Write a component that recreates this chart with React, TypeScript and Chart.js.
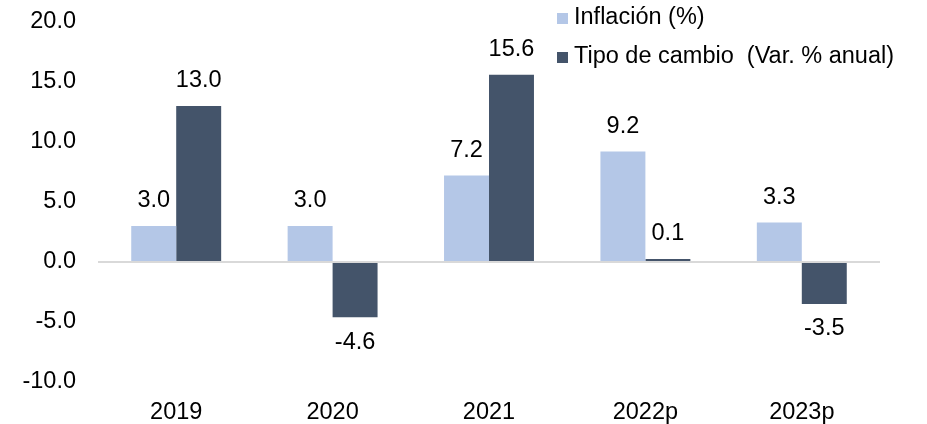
import React, { useEffect, useRef } from "react";
import { Chart, registerables } from "chart.js";

Chart.register(...registerables);

const categories = ["2019", "2020", "2021", "2022p", "2023p"];
const inflacion = [3.0, 3.0, 7.2, 9.2, 3.3];
const tipoCambio = [13.0, -4.6, 15.6, 0.1, -3.5];
const seriesNames = ["Inflación (%)", "Tipo de cambio  (Var. % anual)"];
const seriesColors = ["#B4C7E7", "#44546A"];

const FONT = "'Liberation Sans', Arial, sans-serif";
const FS = 23.5;

const labelPlugin = {
  id: "valueLabels",
  afterDatasetsDraw(chart: any) {
    const ctx = chart.ctx;
    ctx.save();
    ctx.font = `${FS}px ${FONT}`;
    ctx.fillStyle = "#000";
    ctx.textAlign = "center";
    ctx.textBaseline = "middle";
    chart.data.datasets.forEach((ds: any, di: number) => {
      const meta = chart.getDatasetMeta(di);
      meta.data.forEach((el: any, i: number) => {
        const v = ds.data[i];
        const y = v >= 0 ? el.y - 25 : el.y + 25;
        ctx.fillText(v.toFixed(1), el.x, y);
      });
    });
    ctx.restore();
  },
};

const legendPlugin = {
  id: "customLegend",
  afterDraw(chart: any) {
    const ctx = chart.ctx;
    ctx.save();
    ctx.font = `${FS}px ${FONT}`;
    ctx.textBaseline = "middle";
    ctx.textAlign = "left";
    const rows = [18, 57];
    seriesNames.forEach((name, i) => {
      ctx.fillStyle = seriesColors[i];
      ctx.fillRect(557, rows[i] - 5, 11, 11);
      ctx.fillStyle = "#000";
      ctx.fillText(name, 574, rows[i]);
    });
    ctx.restore();
  },
};

export default function App() {
  const ref = useRef<HTMLCanvasElement>(null);
  useEffect(() => {
    document.body.style.margin = "0";
    const chart = new Chart(ref.current!, {
      type: "bar",
      data: {
        labels: categories,
        datasets: [
          {
            label: seriesNames[0],
            data: inflacion,
            backgroundColor: seriesColors[0],
            categoryPercentage: 0.575,
            barPercentage: 1,
          },
          {
            label: seriesNames[1],
            data: tipoCambio,
            backgroundColor: seriesColors[1],
            categoryPercentage: 0.575,
            barPercentage: 1,
            minBarLength: 3,
          },
        ],
      },
      options: {
        animation: false,
        responsive: false,
        devicePixelRatio: 1,
        layout: { autoPadding: false, padding: { top: 22, right: 47, left: 0, bottom: 0 } },
        plugins: { legend: { display: false }, tooltip: { enabled: false } },
        scales: {
          x: {
            grid: { display: false, drawTicks: false },
            border: { display: false },
            ticks: { color: "#000", font: { size: FS, family: FONT }, padding: 16 },
            afterFit(scale: any) { scale.height = 42; },
          } as any,
          y: {
            min: -10,
            max: 20,
            ticks: {
              stepSize: 5,
              color: "#000",
              font: { size: FS, family: FONT },
              padding: 22,
              callback: (v: any) => Number(v).toFixed(1),
            },
            grid: {
              drawTicks: false,
              color: (c: any) => (c.tick && c.tick.value === 0 ? "#D9D9D9" : "rgba(0,0,0,0)"),
              lineWidth: 2,
            },
            border: { display: false },
            afterFit(scale: any) { scale.width = 98; scale.paddingTop = 0; scale.paddingBottom = 0; },
          } as any,
        },
      },
      plugins: [labelPlugin, legendPlugin],
    });
    return () => chart.destroy();
  }, []);
  return <canvas ref={ref} width={927} height={424} style={{ display: "block" }} />;
}
